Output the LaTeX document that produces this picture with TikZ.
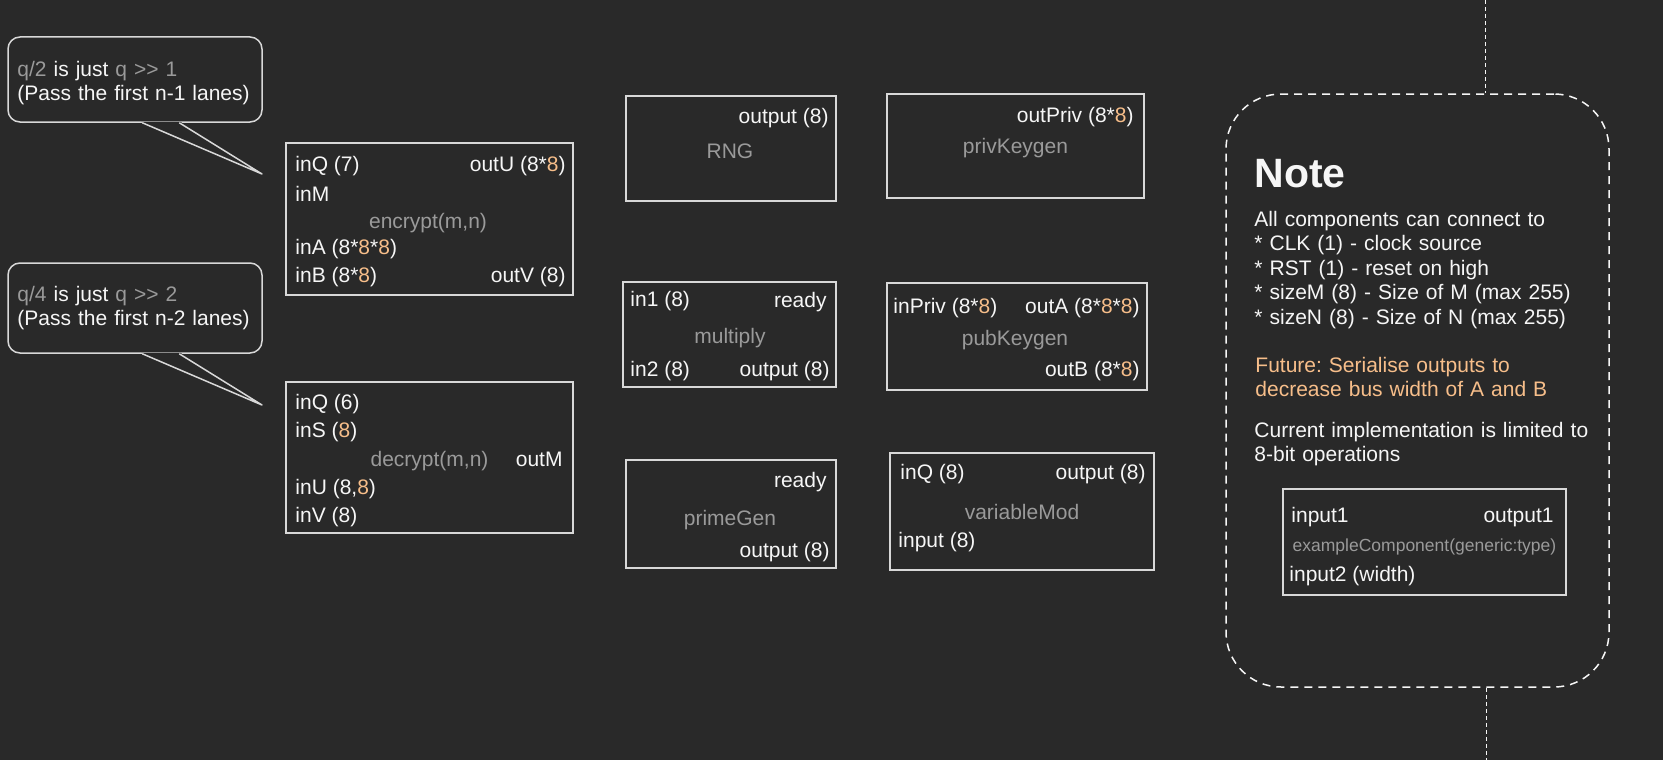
\documentclass[tikz,border=0pt]{standalone}
\usepackage{fontspec}
\setmainfont{Liberation Sans}
\usetikzlibrary{positioning,calc}

\definecolor{bg}{HTML}{292929}
\definecolor{fg}{HTML}{F6F6F6}
\definecolor{dim}{HTML}{9A9A9A}
\definecolor{boxline}{HTML}{D8D8D8}
\definecolor{peach}{HTML}{F7BE8A}

\newcommand{\bus}[1]{\textcolor{peach}{#1}}
\newcommand{\portfont}{\fontsize{21}{24.5}\selectfont}

\tikzset{
  comp/.style     = {draw=boxline, line width=1.5pt, inner sep=0pt},
  port/.style     = {text=fg, font=\portfont, inner sep=0pt},
  pin/.style      = {port, anchor=base west},
  pout/.style     = {port, anchor=base east},
  cname/.style    = {port, text=dim, anchor=base},
  bubble/.style   = {draw=boxline, line width=1.5pt, rounded corners=12pt, inner sep=0pt},
  tail/.style     = {draw=boxline, line width=1.5pt, line join=round},
  notebox/.style  = {draw=fg, line width=1.5pt, dash pattern=on 8pt off 6pt, rounded corners=55pt, inner sep=0pt},
  guide/.style    = {draw=fg, line width=1pt, dash pattern=on 4pt off 3pt},
  notetext/.style = {port, anchor=base west, text width=340pt, align=left}
}

\begin{document}
\frenchspacing
\begin{tikzpicture}[x=1pt, y=-1pt]
  \path[use as bounding box, fill=bg] (0,0) rectangle (1663,760);

  % callouts on the left
  \node[bubble, minimum width=254pt, minimum height=85pt] (qa) at (135,79.5) {};
  \node[notetext, text width=240pt] (qa-text) at ([xshift=10pt, yshift=-40pt]qa.north west)
    {\textcolor{dim}{q/2} is just \textcolor{dim}{q >{}> 1}\\(Pass the first n-1 lanes)};
  \coordinate (qa-tip) at (262,174);
  \fill[bg] ([xshift=134pt, yshift=1pt]qa.south west) -- (qa-tip) -- ([xshift=173pt, yshift=1pt]qa.south west) -- cycle;
  \draw[tail] ([xshift=135pt]qa.south west) -- (qa-tip) -- ([xshift=172pt]qa.south west);

  \node[bubble, minimum width=254pt, minimum height=90pt] (qb) at (135,308) {};
  \node[notetext, text width=240pt] (qb-text) at ([xshift=10pt, yshift=-39pt]qb.north west)
    {\textcolor{dim}{q/4} is just \textcolor{dim}{q >{}> 2}\\(Pass the first n-2 lanes)};
  \coordinate (qb-tip) at (262,405);
  \fill[bg] ([xshift=134pt, yshift=1pt]qb.south west) -- (qb-tip) -- ([xshift=173pt, yshift=1pt]qb.south west) -- cycle;
  \draw[tail] ([xshift=135pt]qb.south west) -- (qb-tip) -- ([xshift=172pt]qb.south west);

  % encrypt
  \node[comp, minimum width=287pt, minimum height=152pt] (enc) at (429.5,219) {};
  \node[pin]   (enc-inq)  at ([xshift=10pt, yshift=-29pt]enc.north west) {inQ (7)};
  \node[pin]   (enc-inm)  at ([xshift=10pt, yshift=-59pt]enc.north west) {inM};
  \node[cname] (enc-name) at ([xshift=-1.5pt, yshift=-86pt]enc.north) {encrypt(m,n)};
  \node[pin]   (enc-ina)  at ([xshift=10pt, yshift=-112pt]enc.north west) {inA (8*\bus{8}*\bus{8})};
  \node[pin]   (enc-inb)  at ([xshift=10pt, yshift=-140pt]enc.north west) {inB (8*\bus{8})};
  \node[pout]  (enc-outu) at ([xshift=-8pt, yshift=-29pt]enc.north east) {outU (8*\bus{8})};
  \node[pout]  (enc-outv) at ([xshift=-8pt, yshift=-140pt]enc.north east) {outV (8)};

  % decrypt
  \node[comp, minimum width=287pt, minimum height=151pt] (dec) at (429.5,457.5) {};
  \node[pin]   (dec-inq)  at ([xshift=10pt, yshift=-28pt]dec.north west) {inQ (6)};
  \node[pin]   (dec-ins)  at ([xshift=10pt, yshift=-56pt]dec.north west) {inS (\bus{8})};
  \node[cname] (dec-name) at ([yshift=-85pt]dec.north) {decrypt(m,n)};
  \node[pout]  (dec-outm) at ([xshift=-11pt, yshift=-85pt]dec.north east) {outM};
  \node[pin]   (dec-inu)  at ([xshift=10pt, yshift=-113pt]dec.north west) {inU (8,\bus{8})};
  \node[pin]   (dec-inv)  at ([xshift=10pt, yshift=-141pt]dec.north west) {inV (8)};

  % middle column
  \node[comp, minimum width=210pt, minimum height=105pt] (rng) at (731,148.5) {};
  \node[pout]  (rng-out)  at ([xshift=-8pt, yshift=-28pt]rng.north east) {output (8)};
  \node[cname] (rng-name) at ([xshift=-1pt, yshift=-63pt]rng.north) {RNG};

  \node[comp, minimum width=213pt, minimum height=105pt] (mul) at (729.5,334.5) {};
  \node[pin]   (mul-in1)  at ([xshift=8pt, yshift=-25pt]mul.north west) {in1 (8)};
  \node[pout]  (mul-rdy)  at ([xshift=-10pt, yshift=-26pt]mul.north east) {ready};
  \node[cname] (mul-name) at ([xshift=0.5pt, yshift=-62pt]mul.north) {multiply};
  \node[pin]   (mul-in2)  at ([xshift=8pt, yshift=-95pt]mul.north west) {in2 (8)};
  \node[pout]  (mul-out)  at ([xshift=-7pt, yshift=-95pt]mul.north east) {output (8)};

  \node[comp, minimum width=210pt, minimum height=108pt] (prime) at (731,514) {};
  \node[pout]  (prime-rdy)  at ([xshift=-10pt, yshift=-28pt]prime.north east) {ready};
  \node[cname] (prime-name) at ([xshift=-1pt, yshift=-66pt]prime.north) {primeGen};
  \node[pout]  (prime-out)  at ([xshift=-7pt, yshift=-98pt]prime.north east) {output (8)};

  % key column
  \node[comp, minimum width=257pt, minimum height=104pt] (priv) at (1015.5,146) {};
  \node[pout]  (priv-out)  at ([xshift=-11pt, yshift=-29pt]priv.north east) {outPriv (8*\bus{8})};
  \node[cname] (priv-name) at ([yshift=-60pt]priv.north) {privKeygen};

  \node[comp, minimum width=260pt, minimum height=107pt] (pub) at (1017,336.5) {};
  \node[pin]   (pub-in)   at ([xshift=7pt, yshift=-31pt]pub.north west) {inPriv (8*\bus{8})};
  \node[pout]  (pub-outa) at ([xshift=-8pt, yshift=-31pt]pub.north east) {outA (8*\bus{8}*\bus{8})};
  \node[cname] (pub-name) at ([xshift=-2pt, yshift=-63pt]pub.north) {pubKeygen};
  \node[pout]  (pub-outb) at ([xshift=-8pt, yshift=-94pt]pub.north east) {outB (8*\bus{8})};

  \node[comp, minimum width=264pt, minimum height=117pt] (vmod) at (1022,511.5) {};
  \node[pin]   (vmod-inq)  at ([xshift=11pt, yshift=-27pt]vmod.north west) {inQ (8)};
  \node[pout]  (vmod-out)  at ([xshift=-9pt, yshift=-27pt]vmod.north east) {output (8)};
  \node[cname] (vmod-name) at ([yshift=-67pt]vmod.north) {variableMod};
  \node[pin]   (vmod-in)   at ([xshift=9pt, yshift=-95pt]vmod.north west) {input (8)};

  % note
  \node[notebox, minimum width=383pt, minimum height=593pt] (note) at (1417.5,390.5) {};
  \coordinate (guide-top) at (1485,0);
  \coordinate (guide-bot) at (1486,760);
  \draw[guide] (guide-top) -- (guide-top |- note.north);
  \draw[guide] (guide-bot |- note.south) -- (guide-bot);

  \node[port, anchor=base west, font=\bfseries\fontsize{41}{41}\selectfont] (note-head)
    at ([xshift=29pt, yshift=-94pt]note.north west) {Note};
  \node[notetext] (note-body) at ([xshift=29pt, yshift=-133pt]note.north west)
    {All components can connect to\\{*} CLK (1) - clock source\\{*} RST (1) - reset on high\\{*} sizeM (8) - Size of M (max 255)\\{*} sizeN (8) - Size of N (max 255)};
  \node[notetext, text=peach] (note-future) at ([xshift=30pt, yshift=-279pt]note.north west)
    {Future: Serialise outputs to\\decrease bus width of A and B};
  \node[notetext] (note-current) at ([xshift=29pt, yshift=-344pt]note.north west)
    {Current implementation is limited to\\8-bit operations};

  \node[comp, minimum width=283pt, minimum height=106pt] (ex) at (1424.5,542) {};
  \node[pin]   (ex-in1)  at ([xshift=9pt, yshift=-34pt]ex.north west) {input1};
  \node[pout]  (ex-out1) at ([xshift=-13pt, yshift=-34pt]ex.north east) {output1};
  \node[cname, font=\fontsize{17.5}{20}\selectfont] (ex-name) at ([yshift=-63pt]ex.north) {exampleComponent(generic:type)};
  \node[pin]   (ex-in2)  at ([xshift=7pt, yshift=-93pt]ex.north west) {input2 (width)};
\end{tikzpicture}
\end{document}
